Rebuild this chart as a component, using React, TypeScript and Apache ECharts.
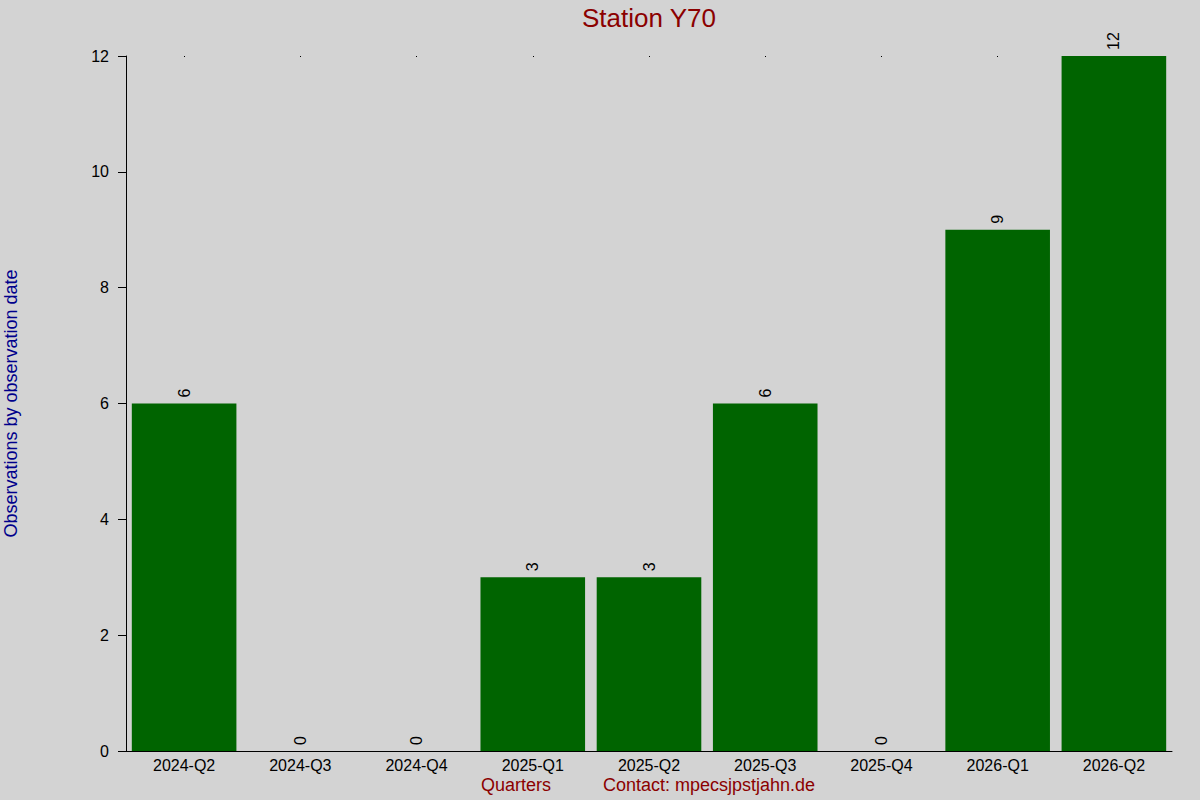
import React, { useEffect, useRef } from "react";
import * as echarts from "echarts";

const categories = ["2024-Q2", "2024-Q3", "2024-Q4", "2025-Q1", "2025-Q2", "2025-Q3", "2025-Q4", "2026-Q1", "2026-Q2"];
const observations = [6, 0, 0, 3, 3, 6, 0, 9, 12];
const yTicks = { min: 0, max: 12, interval: 2 };

const FONT = "Liberation Sans, Arial, sans-serif";

export default function App() {
  const ref = useRef<HTMLDivElement>(null);
  useEffect(() => {
    if (!ref.current) return;
    const chart = echarts.init(ref.current, undefined, { renderer: "svg" });
    chart.setOption({
      animation: false,
      backgroundColor: "#d3d3d3",
      textStyle: { fontFamily: FONT },
      title: {
        text: "Station Y70",
        left: 577,
        top: 0,
        textStyle: { color: "#8b0000", fontSize: 26, fontWeight: "normal", fontFamily: FONT },
      },
      grid: { left: 126, right: 28, top: 56, bottom: 49, containLabel: false, outerBoundsMode: "none" },
      xAxis: [
        {
          type: "category",
          data: categories,
          position: "bottom",
          axisLine: { show: true, lineStyle: { color: "#000", width: 1 } },
          axisTick: { show: false },
          axisLabel: { color: "#000", fontSize: 16, margin: 6, fontFamily: FONT },
          splitLine: { show: false },
        },
        {
          type: "category",
          data: categories,
          position: "top",
          axisLine: { show: false },
          axisTick: { show: true, alignWithLabel: true, length: 1, inside: true, lineStyle: { color: "#000" } },
          axisLabel: { show: false },
          splitLine: { show: false },
        },
      ],
      yAxis: {
        type: "value",
        min: yTicks.min,
        max: yTicks.max,
        interval: yTicks.interval,
        name: "Observations by observation date",
        nameLocation: "middle",
        nameGap: 106,
        nameTextStyle: { color: "#00008b", fontSize: 18, fontFamily: FONT },
        axisLine: { show: true, lineStyle: { color: "#000", width: 1 } },
        axisTick: { show: true, length: 8, lineStyle: { color: "#000" } },
        axisLabel: { color: "#000", fontSize: 16, margin: 17, fontFamily: FONT },
        splitLine: { show: false },
      },
      series: [
        {
          type: "bar",
          data: observations,
          xAxisIndex: 0,
          barCategoryGap: "10%",
          itemStyle: { color: "#006400" },
          label: {
            show: true,
            position: "top",
            rotate: 90,
            align: "left",
            verticalAlign: "middle",
            distance: 6,
            color: "#000",
            fontSize: 16,
            fontFamily: FONT,
          },
        },
      ],
      graphic: [
        {
          type: "text",
          left: 481,
          top: 776,
          style: { text: "Quarters", fill: "#8b0000", fontSize: 18, fontFamily: FONT },
        },
        {
          type: "text",
          left: 603,
          top: 776,
          style: { text: "Contact: mpecsjpstjahn.de", fill: "#8b0000", fontSize: 18, fontFamily: FONT },
        },
      ],
    });
    return () => chart.dispose();
  }, []);
  return <div ref={ref} style={{ width: 1200, height: 800, position: "absolute", left: 0, top: 0 }} />;
}
